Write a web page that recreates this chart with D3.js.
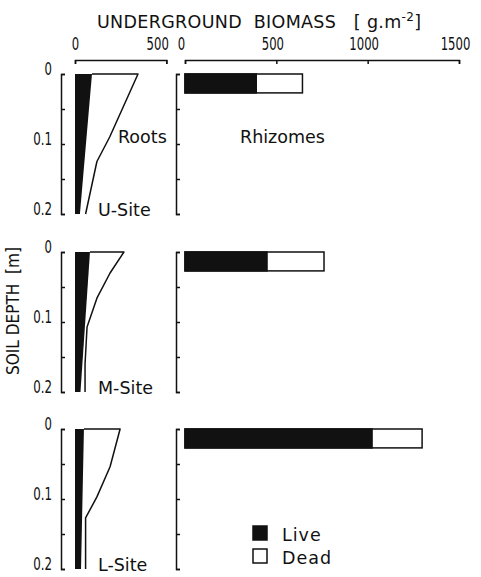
<!DOCTYPE html>
<html>
<head>
<meta charset="utf-8">
<script src="https://cdn.jsdelivr.net/npm/d3@7"></script>
<style>
  body { margin: 0; background: #fff; }
  text { fill: #111; font-family: 'DejaVu Sans', sans-serif; }
  .num { font-family: 'DejaVu Sans', sans-serif; font-size: 17px; }
  .lbl { font-size: 17.5px; }
</style>
</head>
<body>
<svg id="chart" width="481" height="577"></svg>
<script>
// values
var sites = ['U-Site', 'M-Site', 'L-Site'];

var rootTotalDepth = [
  [0, 0.09, 0.125, 0.2],
  [0, 0.03, 0.066, 0.107, 0.16, 0.2],
  [0, 0.054, 0.097, 0.127, 0.2]
];
var rootTotalValue = [
  [345, 190, 120, 58],
  [268, 192, 120, 66, 55, 55],
  [247, 192, 120, 58, 58]
];
var rootLiveTop = [93, 82, 49];
var rootLiveBottom = [27, 30, 33];

var rhizLive = [390, 449, 1024];
var rhizDead = [253, 312, 274];
var rhizBarDepth = 0.027;

var rootTicks = [0, 500];
var rhizTicks = [0, 500, 1000, 1500];
var depthTicks = [0, 0.05, 0.1, 0.15, 0.2];
var depthTickLabels = ['0', '', '0.1', '', '0.2'];
var legendLabels = ['Live', 'Dead'];

var svg = d3.select('#chart');
svg.append('rect').attr('width', 481).attr('height', 577).attr('fill', '#fff');

var xRoot = d3.scaleLinear().domain([0, 500]).range([75, 166.3]);
var xRhiz = d3.scaleLinear().domain([0, 1500]).range([185, 459]);

var panelTop = [74, 252, 429];
var panelHeight = 140;

// the scanned lettering has narrow digits, squeeze them
function narrow(sel) {
  sel.each(function() {
    var s = d3.select(this).text();
    if (!s) return;
    var w = 0;
    for (var c = 0; c < s.length; c++) w += s[c] === '.' ? 4 : 7.4;
    d3.select(this).attr('textLength', w).attr('lengthAdjust', 'spacingAndGlyphs');
  });
}

function styleAxis(g) {
  g.selectAll('path, line').attr('stroke', '#111').attr('stroke-width', 1.5);
  g.attr('font-family', null).attr('font-size', null);
  g.selectAll('text').attr('class', 'num').attr('fill', '#111').call(narrow);
}

// title
var title = svg.append('text')
  .attr('class', 'lbl')
  .attr('x', 97)
  .attr('y', 28)
  .attr('xml:space', 'preserve')
  .attr('textLength', 324);
title.append('tspan').text('UNDERGROUND  BIOMASS   [ g.m');
title.append('tspan').attr('dy', -7).attr('font-size', 12).text('-2');
title.append('tspan').attr('dy', 7).text(']');

// top axes
var topRoot = svg.append('g')
  .attr('transform', 'translate(0,60)')
  .call(d3.axisTop(xRoot).tickValues(rootTicks).tickFormat(d3.format('d'))
    .tickSizeInner(-4).tickSizeOuter(-4).tickPadding(10));
styleAxis(topRoot);
topRoot.selectAll('.tick text').filter(function(d) { return d === 500; })
  .attr('text-anchor', 'end').attr('x', 2);

var topRhiz = svg.append('g')
  .attr('transform', 'translate(0,60)')
  .call(d3.axisTop(xRhiz).tickValues(rhizTicks).tickFormat(d3.format('d'))
    .tickSizeInner(-4).tickSizeOuter(-4).tickPadding(10));
styleAxis(topRhiz);
topRhiz.selectAll('.tick text').attr('dx', -4);

// y label
svg.append('text')
  .attr('class', 'lbl')
  .attr('transform', 'translate(19,311) rotate(-90)')
  .attr('text-anchor', 'middle')
  .attr('font-size', 16)
  .attr('xml:space', 'preserve')
  .attr('textLength', 128)
  .attr('lengthAdjust', 'spacingAndGlyphs')
  .text('SOIL DEPTH  [m]');

sites.forEach(function(site, i) {
  var y = d3.scaleLinear().domain([0, 0.2]).range([panelTop[i], panelTop[i] + panelHeight]);

  var left = svg.append('g')
    .attr('transform', 'translate(61,0)')
    .call(d3.axisLeft(y).tickValues(depthTicks).tickSizeInner(-4).tickSizeOuter(-4).tickPadding(9)
      .tickFormat(function(d, k) { return depthTickLabels[k]; }));
  styleAxis(left);
  left.selectAll('.tick text').attr('dy', '0.05em');

  var right = svg.append('g')
    .attr('transform', 'translate(176,0)')
    .call(d3.axisLeft(y).tickValues(depthTicks).tickSizeInner(-4).tickSizeOuter(-4).tickFormat(''));
  styleAxis(right);

  // live roots, black wedge
  svg.append('path')
    .attr('d', d3.line()([
      [xRoot(0), y(0)],
      [xRoot(rootLiveTop[i]), y(0)],
      [xRoot(rootLiveBottom[i]), y(0.2)],
      [xRoot(0), y(0.2)]
    ]) + 'Z')
    .attr('fill', '#111');

  // total roots outline
  var pts = rootTotalDepth[i].map(function(dd, k) { return [xRoot(rootTotalValue[i][k]), y(dd)]; });
  pts.unshift([xRoot(rootLiveTop[i]), y(0)]);
  svg.append('path')
    .attr('d', d3.line()(pts))
    .attr('fill', 'none')
    .attr('stroke', '#111')
    .attr('stroke-width', 1.5)
    .attr('stroke-linejoin', 'round');

  // rhizome bar
  svg.append('rect')
    .attr('x', xRhiz(0))
    .attr('y', y(0))
    .attr('width', xRhiz(rhizLive[i] + rhizDead[i]) - xRhiz(0))
    .attr('height', y(rhizBarDepth) - y(0))
    .attr('fill', '#fff')
    .attr('stroke', '#111')
    .attr('stroke-width', 1.5);
  svg.append('rect')
    .attr('x', xRhiz(0))
    .attr('y', y(0))
    .attr('width', xRhiz(rhizLive[i]) - xRhiz(0))
    .attr('height', y(rhizBarDepth) - y(0))
    .attr('fill', '#111')
    .attr('stroke', '#111')
    .attr('stroke-width', 1.5);

  svg.append('text')
    .attr('class', 'lbl')
    .attr('x', 98)
    .attr('y', y(0.2) + 2)
    .text(site);
});

svg.append('text').attr('class', 'lbl').attr('x', 118).attr('y', 143).text('Roots');
svg.append('text').attr('class', 'lbl').attr('x', 240).attr('y', 143).text('Rhizomes');

// legend
var legend = svg.append('g').selectAll('g')
  .data(legendLabels)
  .enter().append('g')
  .attr('transform', function(d, k) { return 'translate(253,' + (526 + k * 23) + ')'; });

legend.append('rect')
  .attr('width', 14)
  .attr('height', 14)
  .attr('fill', function(d, k) { return k === 0 ? '#111' : '#fff'; })
  .attr('stroke', '#111')
  .attr('stroke-width', 1.5);

legend.append('text')
  .attr('class', 'lbl')
  .attr('x', 29)
  .attr('y', 15)
  .attr('letter-spacing', 1)
  .text(function(d) { return d; });
</script>
</body>
</html>
